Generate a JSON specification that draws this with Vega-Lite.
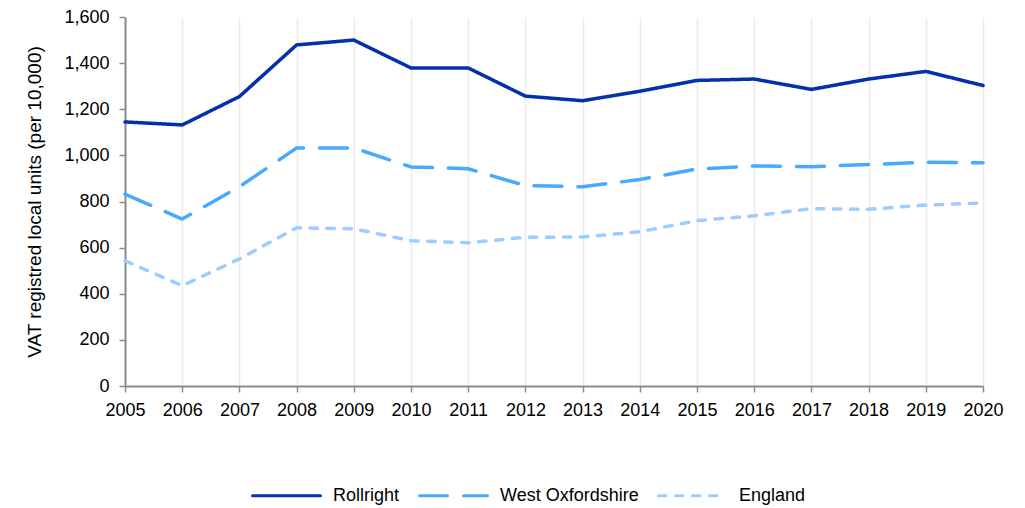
{
  "$schema": "https://vega.github.io/schema/vega-lite/v6.json",
  "width": 858,
  "height": 369,
  "autosize": "none",
  "padding": {"left": 125, "top": 17, "right": 42, "bottom": 122},
  "background": "white",
  "config": {
    "font": "Liberation Sans",
    "view": {"stroke": null},
    "axis": {"labelFont": "Liberation Sans", "titleFont": "Liberation Sans", "labelColor": "#000", "titleColor": "#000", "labelFontSize": 18, "titleFontSize": 19, "titleFontWeight": "normal"}
  },
  "data": {"values": [
    {"year": 2005, "area": "Rollright", "value": 1145},
    {"year": 2006, "area": "Rollright", "value": 1132},
    {"year": 2007, "area": "Rollright", "value": 1255},
    {"year": 2008, "area": "Rollright", "value": 1479},
    {"year": 2009, "area": "Rollright", "value": 1500},
    {"year": 2010, "area": "Rollright", "value": 1379},
    {"year": 2011, "area": "Rollright", "value": 1379},
    {"year": 2012, "area": "Rollright", "value": 1257},
    {"year": 2013, "area": "Rollright", "value": 1237},
    {"year": 2014, "area": "Rollright", "value": 1278},
    {"year": 2015, "area": "Rollright", "value": 1325},
    {"year": 2016, "area": "Rollright", "value": 1331},
    {"year": 2017, "area": "Rollright", "value": 1286},
    {"year": 2018, "area": "Rollright", "value": 1331},
    {"year": 2019, "area": "Rollright", "value": 1364},
    {"year": 2020, "area": "Rollright", "value": 1303},
    {"year": 2005, "area": "West Oxfordshire", "value": 832},
    {"year": 2006, "area": "West Oxfordshire", "value": 724},
    {"year": 2007, "area": "West Oxfordshire", "value": 864},
    {"year": 2008, "area": "West Oxfordshire", "value": 1032},
    {"year": 2009, "area": "West Oxfordshire", "value": 1032},
    {"year": 2010, "area": "West Oxfordshire", "value": 950},
    {"year": 2011, "area": "West Oxfordshire", "value": 942},
    {"year": 2012, "area": "West Oxfordshire", "value": 869},
    {"year": 2013, "area": "West Oxfordshire", "value": 864},
    {"year": 2014, "area": "West Oxfordshire", "value": 895},
    {"year": 2015, "area": "West Oxfordshire", "value": 941},
    {"year": 2016, "area": "West Oxfordshire", "value": 954},
    {"year": 2017, "area": "West Oxfordshire", "value": 951},
    {"year": 2018, "area": "West Oxfordshire", "value": 960},
    {"year": 2019, "area": "West Oxfordshire", "value": 970},
    {"year": 2020, "area": "West Oxfordshire", "value": 968},
    {"year": 2005, "area": "England", "value": 543},
    {"year": 2006, "area": "England", "value": 435},
    {"year": 2007, "area": "England", "value": 551},
    {"year": 2008, "area": "England", "value": 686},
    {"year": 2009, "area": "England", "value": 682},
    {"year": 2010, "area": "England", "value": 630},
    {"year": 2011, "area": "England", "value": 621},
    {"year": 2012, "area": "England", "value": 645},
    {"year": 2013, "area": "England", "value": 646},
    {"year": 2014, "area": "England", "value": 669},
    {"year": 2015, "area": "England", "value": 717},
    {"year": 2016, "area": "England", "value": 738},
    {"year": 2017, "area": "England", "value": 769},
    {"year": 2018, "area": "England", "value": 766},
    {"year": 2019, "area": "England", "value": 785},
    {"year": 2020, "area": "England", "value": 793}
  ]},
  "mark": {"type": "line", "strokeWidth": 3.5, "strokeCap": "round", "strokeJoin": "round"},
  "encoding": {
    "x": {
      "field": "year", "type": "quantitative",
      "scale": {"domain": [2005, 2020], "nice": false, "zero": false},
      "axis": {"title": null, "format": "d", "values": [2005,2006,2007,2008,2009,2010,2011,2012,2013,2014,2015,2016,2017,2018,2019,2020],
        "grid": true, "gridColor": "#ebebeb", "gridWidth": 1.5, "domainColor": "#8c8c8c", "domainWidth": 2, "tickColor": "#8c8c8c", "tickWidth": 1.5, "tickSize": 6, "labelPadding": 9, "labelFlush": false, "labelOverlap": false}
    },
    "y": {
      "field": "value", "type": "quantitative",
      "scale": {"domain": [0, 1600], "nice": false},
      "axis": {"title": "VAT registred local units (per 10,000)", "format": ",d", "values": [0,200,400,600,800,1000,1200,1400,1600],
        "grid": false, "domainColor": "#8c8c8c", "domainWidth": 2, "tickColor": "#8c8c8c", "tickWidth": 1.5, "tickSize": 6, "labelPadding": 10, "titlePadding": 19, "labelOverlap": false}
    },
    "color": {
      "field": "area", "type": "nominal",
      "scale": {"domain": ["Rollright", "West Oxfordshire", "England"], "range": ["#0530ad", "#4aa8ff", "#9dcdff"]},
      "legend": {"title": null, "orient": "none", "direction": "horizontal", "legendX": 126, "legendY": 443,
        "symbolType": "stroke", "symbolSize": 4624, "symbolStrokeWidth": 3, "labelFontSize": 18, "labelFont": "Liberation Sans", "labelColor": "#000", "columnPadding": 13, "labelOffset": 11,
        "encode": {"symbols": {"update": {"strokeCap": {"value": "round"}, "strokeDash": {"signal": "datum.value == 'West Oxfordshire' ? [11.5, 11.5] : datum.value == 'England' ? [3.5, 8.5] : [1, 0]"}}}}}
    },
    "strokeDash": {
      "field": "area", "type": "nominal",
      "scale": {"domain": ["Rollright", "West Oxfordshire", "England"], "range": [[1, 0], [28, 16], [7.5, 9.5]]},
      "legend": null
    }
  }
}
